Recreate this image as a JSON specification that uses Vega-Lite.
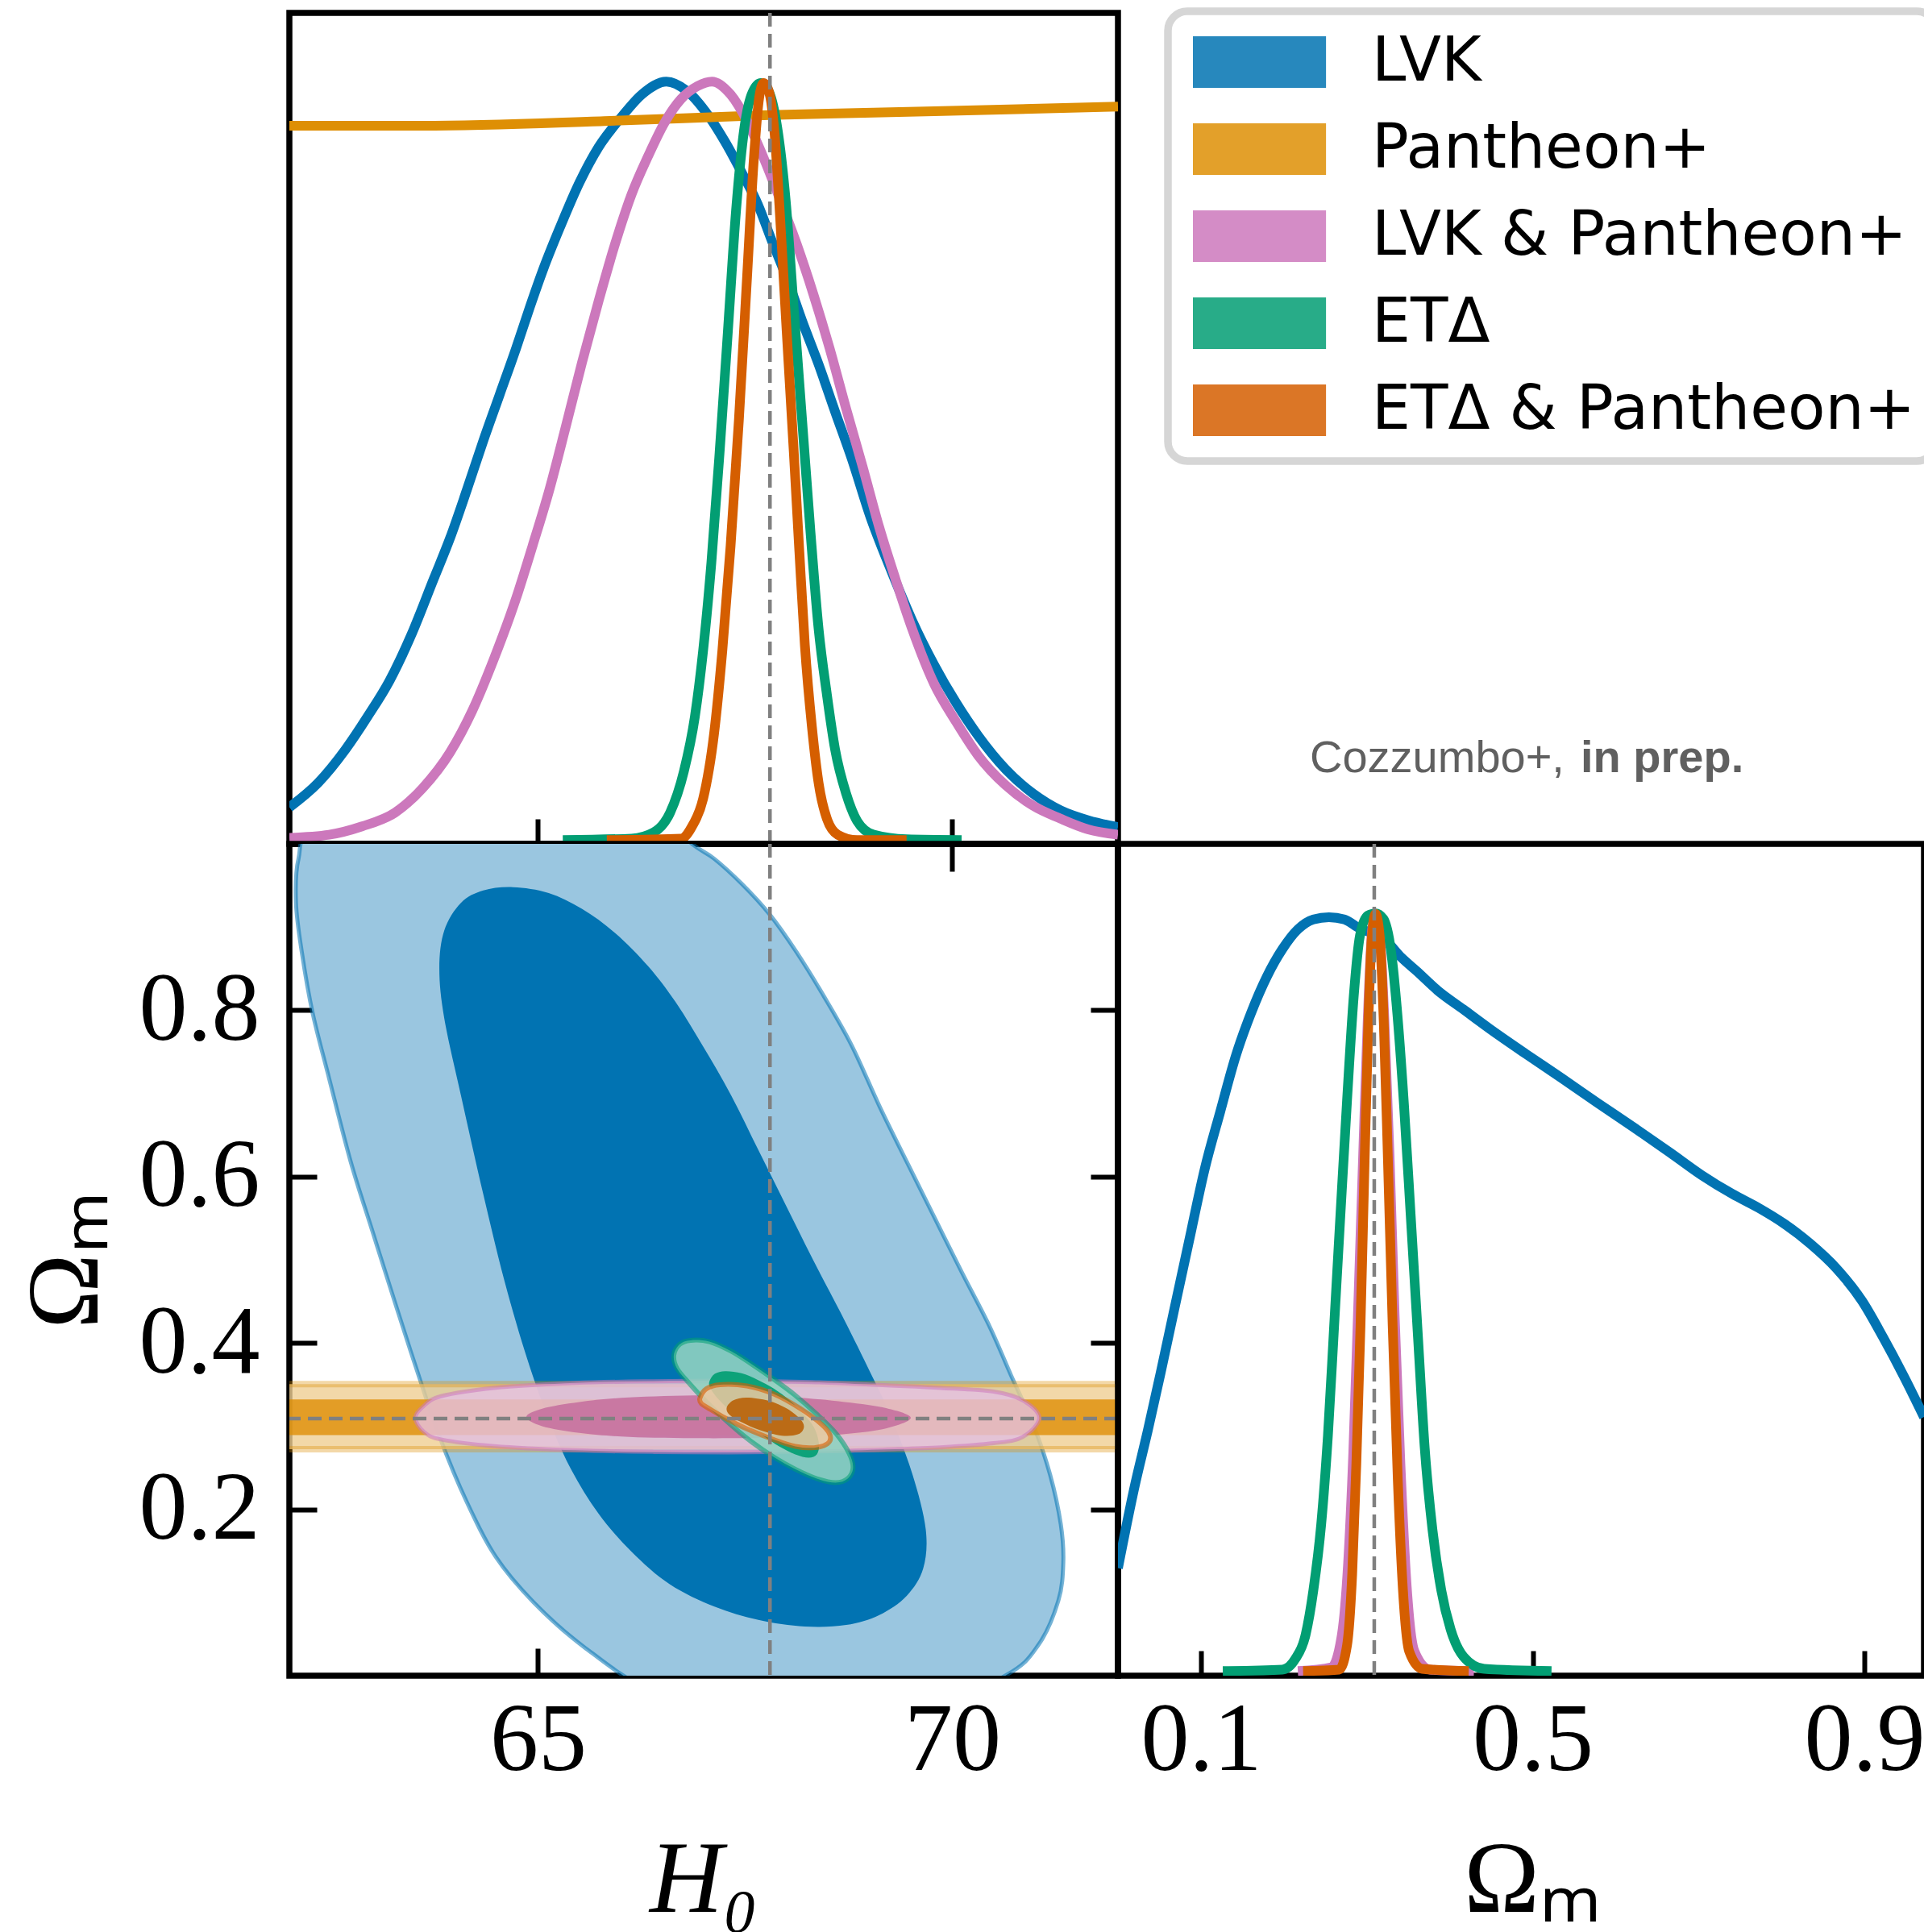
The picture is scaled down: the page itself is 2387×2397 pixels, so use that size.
{
  "$schema": "https://vega.github.io/schema/vega-lite/v6.json",
  "padding": {"left": 15, "top": 5, "right": 0, "bottom": 0},
  "background": "white",
  "config": {
    "view": {"stroke": "black", "strokeWidth": 7.5},
    "axis": {"grid": false, "domain": false, "tickColor": "black", "tickWidth": 6, "labelFont": "Liberation Serif", "labelFontSize": 120, "labelColor": "black", "labelOverlap": false, "labelFlush": false, "titleFont": "Liberation Serif", "titleFontSize": 126, "titleFontWeight": "normal", "titleColor": "black"},
    "legend": {"strokeColor": "#d6d6d6", "strokeWidth": 9.5, "cornerRadius": 24, "fillColor": "white", "padding": 25}
  },
  "datasets": {
    "truth": [{"H0": 67.8, "Om": 0.309}],
    "h0_1d": [
      {"dataset": "LVK", "H0": 62.0, "density": 0.048}, {"dataset": "LVK", "H0": 62.346, "density": 0.080}, {"dataset": "LVK", "H0": 62.678, "density": 0.124}, {"dataset": "LVK", "H0": 62.944, "density": 0.167}, {"dataset": "LVK", "H0": 63.209, "density": 0.214}, {"dataset": "LVK", "H0": 63.475, "density": 0.275}, {"dataset": "LVK", "H0": 63.740, "density": 0.347}, {"dataset": "LVK", "H0": 63.939, "density": 0.401}, {"dataset": "LVK", "H0": 64.138, "density": 0.463}, {"dataset": "LVK", "H0": 64.338, "density": 0.528}, {"dataset": "LVK", "H0": 64.537, "density": 0.589}, {"dataset": "LVK", "H0": 64.736, "density": 0.650}, {"dataset": "LVK", "H0": 64.902, "density": 0.704}, {"dataset": "LVK", "H0": 65.068, "density": 0.755}, {"dataset": "LVK", "H0": 65.267, "density": 0.809}, {"dataset": "LVK", "H0": 65.499, "density": 0.867}, {"dataset": "LVK", "H0": 65.732, "density": 0.914}, {"dataset": "LVK", "H0": 65.997, "density": 0.952}, {"dataset": "LVK", "H0": 66.263, "density": 0.984}, {"dataset": "LVK", "H0": 66.55, "density": 1.0}, {"dataset": "LVK", "H0": 66.794, "density": 0.988}, {"dataset": "LVK", "H0": 67.059, "density": 0.955}, {"dataset": "LVK", "H0": 67.258, "density": 0.921}, {"dataset": "LVK", "H0": 67.458, "density": 0.881}, {"dataset": "LVK", "H0": 67.657, "density": 0.838}, {"dataset": "LVK", "H0": 67.823, "density": 0.791}, {"dataset": "LVK", "H0": 68.022, "density": 0.737}, {"dataset": "LVK", "H0": 68.188, "density": 0.686}, {"dataset": "LVK", "H0": 68.387, "density": 0.629}, {"dataset": "LVK", "H0": 68.586, "density": 0.567}, {"dataset": "LVK", "H0": 68.785, "density": 0.506}, {"dataset": "LVK", "H0": 69.018, "density": 0.427}, {"dataset": "LVK", "H0": 69.250, "density": 0.362}, {"dataset": "LVK", "H0": 69.516, "density": 0.293}, {"dataset": "LVK", "H0": 69.781, "density": 0.235}, {"dataset": "LVK", "H0": 70.047, "density": 0.185}, {"dataset": "LVK", "H0": 70.312, "density": 0.142}, {"dataset": "LVK", "H0": 70.644, "density": 0.098}, {"dataset": "LVK", "H0": 70.976, "density": 0.066}, {"dataset": "LVK", "H0": 71.308, "density": 0.044}, {"dataset": "LVK", "H0": 71.640, "density": 0.031}, {"dataset": "LVK", "H0": 72.0, "density": 0.022},
      {"dataset": "Pantheon+", "H0": 62.0, "density": 0.942}, {"dataset": "Pantheon+", "H0": 63.607, "density": 0.942}, {"dataset": "Pantheon+", "H0": 65.798, "density": 0.948}, {"dataset": "Pantheon+", "H0": 67.790, "density": 0.956}, {"dataset": "Pantheon+", "H0": 69.781, "density": 0.961}, {"dataset": "Pantheon+", "H0": 72.0, "density": 0.967},
      {"dataset": "LVK & Pantheon+", "H0": 62.0, "density": 0.008}, {"dataset": "LVK & Pantheon+", "H0": 62.479, "density": 0.012}, {"dataset": "LVK & Pantheon+", "H0": 62.877, "density": 0.023}, {"dataset": "LVK & Pantheon+", "H0": 63.275, "density": 0.041}, {"dataset": "LVK & Pantheon+", "H0": 63.607, "density": 0.073}, {"dataset": "LVK & Pantheon+", "H0": 63.939, "density": 0.120}, {"dataset": "LVK & Pantheon+", "H0": 64.205, "density": 0.174}, {"dataset": "LVK & Pantheon+", "H0": 64.470, "density": 0.243}, {"dataset": "LVK & Pantheon+", "H0": 64.736, "density": 0.322}, {"dataset": "LVK & Pantheon+", "H0": 64.935, "density": 0.391}, {"dataset": "LVK & Pantheon+", "H0": 65.134, "density": 0.463}, {"dataset": "LVK & Pantheon+", "H0": 65.333, "density": 0.546}, {"dataset": "LVK & Pantheon+", "H0": 65.533, "density": 0.632}, {"dataset": "LVK & Pantheon+", "H0": 65.732, "density": 0.712}, {"dataset": "LVK & Pantheon+", "H0": 65.931, "density": 0.787}, {"dataset": "LVK & Pantheon+", "H0": 66.130, "density": 0.852}, {"dataset": "LVK & Pantheon+", "H0": 66.329, "density": 0.902}, {"dataset": "LVK & Pantheon+", "H0": 66.528, "density": 0.946}, {"dataset": "LVK & Pantheon+", "H0": 66.727, "density": 0.977}, {"dataset": "LVK & Pantheon+", "H0": 66.927, "density": 0.994}, {"dataset": "LVK & Pantheon+", "H0": 67.10, "density": 1.0}, {"dataset": "LVK & Pantheon+", "H0": 67.325, "density": 0.983}, {"dataset": "LVK & Pantheon+", "H0": 67.524, "density": 0.948}, {"dataset": "LVK & Pantheon+", "H0": 67.723, "density": 0.900}, {"dataset": "LVK & Pantheon+", "H0": 67.922, "density": 0.845}, {"dataset": "LVK & Pantheon+", "H0": 68.122, "density": 0.787}, {"dataset": "LVK & Pantheon+", "H0": 68.321, "density": 0.722}, {"dataset": "LVK & Pantheon+", "H0": 68.520, "density": 0.650}, {"dataset": "LVK & Pantheon+", "H0": 68.719, "density": 0.571}, {"dataset": "LVK & Pantheon+", "H0": 68.918, "density": 0.495}, {"dataset": "LVK & Pantheon+", "H0": 69.117, "density": 0.416}, {"dataset": "LVK & Pantheon+", "H0": 69.316, "density": 0.347}, {"dataset": "LVK & Pantheon+", "H0": 69.516, "density": 0.282}, {"dataset": "LVK & Pantheon+", "H0": 69.781, "density": 0.210}, {"dataset": "LVK & Pantheon+", "H0": 70.047, "density": 0.160}, {"dataset": "LVK & Pantheon+", "H0": 70.312, "density": 0.116}, {"dataset": "LVK & Pantheon+", "H0": 70.644, "density": 0.077}, {"dataset": "LVK & Pantheon+", "H0": 70.976, "density": 0.050}, {"dataset": "LVK & Pantheon+", "H0": 71.308, "density": 0.033}, {"dataset": "LVK & Pantheon+", "H0": 71.640, "density": 0.019}, {"dataset": "LVK & Pantheon+", "H0": 72.0, "density": 0.012},
      {"dataset": "ETΔ", "H0": 65.300, "density": 0.005}, {"dataset": "ETΔ", "H0": 66.130, "density": 0.007}, {"dataset": "ETΔ", "H0": 66.396, "density": 0.015}, {"dataset": "ETΔ", "H0": 66.595, "density": 0.041}, {"dataset": "ETΔ", "H0": 66.761, "density": 0.095}, {"dataset": "ETΔ", "H0": 66.894, "density": 0.167}, {"dataset": "ETΔ", "H0": 66.993, "density": 0.253}, {"dataset": "ETΔ", "H0": 67.093, "density": 0.369}, {"dataset": "ETΔ", "H0": 67.192, "density": 0.513}, {"dataset": "ETΔ", "H0": 67.292, "density": 0.672}, {"dataset": "ETΔ", "H0": 67.391, "density": 0.831}, {"dataset": "ETΔ", "H0": 67.491, "density": 0.939}, {"dataset": "ETΔ", "H0": 67.590, "density": 0.986}, {"dataset": "ETΔ", "H0": 67.690, "density": 0.998}, {"dataset": "ETΔ", "H0": 67.790, "density": 0.986}, {"dataset": "ETΔ", "H0": 67.889, "density": 0.939}, {"dataset": "ETΔ", "H0": 67.989, "density": 0.845}, {"dataset": "ETΔ", "H0": 68.088, "density": 0.701}, {"dataset": "ETΔ", "H0": 68.188, "density": 0.556}, {"dataset": "ETΔ", "H0": 68.287, "density": 0.412}, {"dataset": "ETΔ", "H0": 68.387, "density": 0.282}, {"dataset": "ETΔ", "H0": 68.487, "density": 0.196}, {"dataset": "ETΔ", "H0": 68.586, "density": 0.124}, {"dataset": "ETΔ", "H0": 68.719, "density": 0.066}, {"dataset": "ETΔ", "H0": 68.852, "density": 0.030}, {"dataset": "ETΔ", "H0": 69.051, "density": 0.012}, {"dataset": "ETΔ", "H0": 69.449, "density": 0.006}, {"dataset": "ETΔ", "H0": 70.113, "density": 0.005},
      {"dataset": "ETΔ & Pantheon+", "H0": 65.831, "density": 0.005}, {"dataset": "ETΔ & Pantheon+", "H0": 66.727, "density": 0.007}, {"dataset": "ETΔ & Pantheon+", "H0": 66.860, "density": 0.023}, {"dataset": "ETΔ & Pantheon+", "H0": 66.993, "density": 0.059}, {"dataset": "ETΔ & Pantheon+", "H0": 67.126, "density": 0.145}, {"dataset": "ETΔ & Pantheon+", "H0": 67.225, "density": 0.253}, {"dataset": "ETΔ & Pantheon+", "H0": 67.325, "density": 0.391}, {"dataset": "ETΔ & Pantheon+", "H0": 67.425, "density": 0.556}, {"dataset": "ETΔ & Pantheon+", "H0": 67.524, "density": 0.744}, {"dataset": "ETΔ & Pantheon+", "H0": 67.604, "density": 0.896}, {"dataset": "ETΔ & Pantheon+", "H0": 67.670, "density": 0.979}, {"dataset": "ETΔ & Pantheon+", "H0": 67.723, "density": 0.998}, {"dataset": "ETΔ & Pantheon+", "H0": 67.790, "density": 0.986}, {"dataset": "ETΔ & Pantheon+", "H0": 67.856, "density": 0.932}, {"dataset": "ETΔ & Pantheon+", "H0": 67.922, "density": 0.823}, {"dataset": "ETΔ & Pantheon+", "H0": 68.002, "density": 0.672}, {"dataset": "ETΔ & Pantheon+", "H0": 68.088, "density": 0.513}, {"dataset": "ETΔ & Pantheon+", "H0": 68.155, "density": 0.383}, {"dataset": "ETΔ & Pantheon+", "H0": 68.221, "density": 0.261}, {"dataset": "ETΔ & Pantheon+", "H0": 68.307, "density": 0.153}, {"dataset": "ETΔ & Pantheon+", "H0": 68.387, "density": 0.080}, {"dataset": "ETΔ & Pantheon+", "H0": 68.487, "density": 0.033}, {"dataset": "ETΔ & Pantheon+", "H0": 68.619, "density": 0.012}, {"dataset": "ETΔ & Pantheon+", "H0": 68.852, "density": 0.005}, {"dataset": "ETΔ & Pantheon+", "H0": 69.449, "density": 0.005}
    ],
    "om_1d": [
      {"dataset": "LVK", "Om": 0.0, "density": 0.141}, {"dataset": "LVK", "Om": 0.0203, "density": 0.249}, {"dataset": "LVK", "Om": 0.0359, "density": 0.321}, {"dataset": "LVK", "Om": 0.0515, "density": 0.397}, {"dataset": "LVK", "Om": 0.0671, "density": 0.476}, {"dataset": "LVK", "Om": 0.0858, "density": 0.570}, {"dataset": "LVK", "Om": 0.1046, "density": 0.664}, {"dataset": "LVK", "Om": 0.1233, "density": 0.739}, {"dataset": "LVK", "Om": 0.1420, "density": 0.812}, {"dataset": "LVK", "Om": 0.1607, "density": 0.869}, {"dataset": "LVK", "Om": 0.1795, "density": 0.916}, {"dataset": "LVK", "Om": 0.1982, "density": 0.952}, {"dataset": "LVK", "Om": 0.2169, "density": 0.978}, {"dataset": "LVK", "Om": 0.2356, "density": 0.991}, {"dataset": "LVK", "Om": 0.2544, "density": 0.994}, {"dataset": "LVK", "Om": 0.2731, "density": 0.991}, {"dataset": "LVK", "Om": 0.2918, "density": 0.979}, {"dataset": "LVK", "Om": 0.3043, "density": 0.974}, {"dataset": "LVK", "Om": 0.3230, "density": 0.963}, {"dataset": "LVK", "Om": 0.3418, "density": 0.941}, {"dataset": "LVK", "Om": 0.3605, "density": 0.923}, {"dataset": "LVK", "Om": 0.3854, "density": 0.898}, {"dataset": "LVK", "Om": 0.4166, "density": 0.873}, {"dataset": "LVK", "Om": 0.4478, "density": 0.848}, {"dataset": "LVK", "Om": 0.4915, "density": 0.815}, {"dataset": "LVK", "Om": 0.5352, "density": 0.783}, {"dataset": "LVK", "Om": 0.5789, "density": 0.750}, {"dataset": "LVK", "Om": 0.6226, "density": 0.718}, {"dataset": "LVK", "Om": 0.6663, "density": 0.685}, {"dataset": "LVK", "Om": 0.7037, "density": 0.656}, {"dataset": "LVK", "Om": 0.7412, "density": 0.631}, {"dataset": "LVK", "Om": 0.7724, "density": 0.613}, {"dataset": "LVK", "Om": 0.8036, "density": 0.592}, {"dataset": "LVK", "Om": 0.8348, "density": 0.566}, {"dataset": "LVK", "Om": 0.8660, "density": 0.534}, {"dataset": "LVK", "Om": 0.8972, "density": 0.491}, {"dataset": "LVK", "Om": 0.9222, "density": 0.444}, {"dataset": "LVK", "Om": 0.9472, "density": 0.393}, {"dataset": "LVK", "Om": 0.9718, "density": 0.339},
      {"dataset": "LVK & Pantheon+", "Om": 0.2169, "density": 0.006}, {"dataset": "LVK & Pantheon+", "Om": 0.2575, "density": 0.011}, {"dataset": "LVK & Pantheon+", "Om": 0.2700, "density": 0.054}, {"dataset": "LVK & Pantheon+", "Om": 0.2775, "density": 0.148}, {"dataset": "LVK & Pantheon+", "Om": 0.2837, "density": 0.292}, {"dataset": "LVK & Pantheon+", "Om": 0.2893, "density": 0.472}, {"dataset": "LVK & Pantheon+", "Om": 0.2956, "density": 0.682}, {"dataset": "LVK & Pantheon+", "Om": 0.3012, "density": 0.862}, {"dataset": "LVK & Pantheon+", "Om": 0.3062, "density": 0.974}, {"dataset": "LVK & Pantheon+", "Om": 0.3105, "density": 0.998}, {"dataset": "LVK & Pantheon+", "Om": 0.3155, "density": 0.974}, {"dataset": "LVK & Pantheon+", "Om": 0.3211, "density": 0.862}, {"dataset": "LVK & Pantheon+", "Om": 0.3274, "density": 0.682}, {"dataset": "LVK & Pantheon+", "Om": 0.3336, "density": 0.472}, {"dataset": "LVK & Pantheon+", "Om": 0.3405, "density": 0.278}, {"dataset": "LVK & Pantheon+", "Om": 0.3480, "density": 0.119}, {"dataset": "LVK & Pantheon+", "Om": 0.3574, "density": 0.032}, {"dataset": "LVK & Pantheon+", "Om": 0.3761, "density": 0.008}, {"dataset": "LVK & Pantheon+", "Om": 0.4291, "density": 0.006},
      {"dataset": "ETΔ", "Om": 0.1264, "density": 0.006}, {"dataset": "ETΔ", "Om": 0.1982, "density": 0.008}, {"dataset": "ETΔ", "Om": 0.2138, "density": 0.022}, {"dataset": "ETΔ", "Om": 0.2263, "density": 0.054}, {"dataset": "ETΔ", "Om": 0.2356, "density": 0.112}, {"dataset": "ETΔ", "Om": 0.2450, "density": 0.198}, {"dataset": "ETΔ", "Om": 0.2531, "density": 0.314}, {"dataset": "ETΔ", "Om": 0.2606, "density": 0.458}, {"dataset": "ETΔ", "Om": 0.2681, "density": 0.602}, {"dataset": "ETΔ", "Om": 0.2762, "density": 0.754}, {"dataset": "ETΔ", "Om": 0.2843, "density": 0.891}, {"dataset": "ETΔ", "Om": 0.2918, "density": 0.970}, {"dataset": "ETΔ", "Om": 0.3012, "density": 0.996}, {"dataset": "ETΔ", "Om": 0.3105, "density": 0.999}, {"dataset": "ETΔ", "Om": 0.3199, "density": 0.992}, {"dataset": "ETΔ", "Om": 0.3293, "density": 0.949}, {"dataset": "ETΔ", "Om": 0.3367, "density": 0.869}, {"dataset": "ETΔ", "Om": 0.3449, "density": 0.747}, {"dataset": "ETΔ", "Om": 0.3530, "density": 0.602}, {"dataset": "ETΔ", "Om": 0.3617, "density": 0.444}, {"dataset": "ETΔ", "Om": 0.3698, "density": 0.299}, {"dataset": "ETΔ", "Om": 0.3792, "density": 0.191}, {"dataset": "ETΔ", "Om": 0.3898, "density": 0.112}, {"dataset": "ETΔ", "Om": 0.4010, "density": 0.061}, {"dataset": "ETΔ", "Om": 0.4166, "density": 0.025}, {"dataset": "ETΔ", "Om": 0.4416, "density": 0.009}, {"dataset": "ETΔ", "Om": 0.5227, "density": 0.006},
      {"dataset": "ETΔ & Pantheon+", "Om": 0.2232, "density": 0.006}, {"dataset": "ETΔ & Pantheon+", "Om": 0.2668, "density": 0.008}, {"dataset": "ETΔ & Pantheon+", "Om": 0.2762, "density": 0.040}, {"dataset": "ETΔ & Pantheon+", "Om": 0.2824, "density": 0.133}, {"dataset": "ETΔ & Pantheon+", "Om": 0.2874, "density": 0.278}, {"dataset": "ETΔ & Pantheon+", "Om": 0.2924, "density": 0.458}, {"dataset": "ETΔ & Pantheon+", "Om": 0.2974, "density": 0.675}, {"dataset": "ETΔ & Pantheon+", "Om": 0.3018, "density": 0.855}, {"dataset": "ETΔ & Pantheon+", "Om": 0.3062, "density": 0.970}, {"dataset": "ETΔ & Pantheon+", "Om": 0.3105, "density": 0.998}, {"dataset": "ETΔ & Pantheon+", "Om": 0.3155, "density": 0.970}, {"dataset": "ETΔ & Pantheon+", "Om": 0.3205, "density": 0.855}, {"dataset": "ETΔ & Pantheon+", "Om": 0.3255, "density": 0.675}, {"dataset": "ETΔ & Pantheon+", "Om": 0.3312, "density": 0.458}, {"dataset": "ETΔ & Pantheon+", "Om": 0.3374, "density": 0.256}, {"dataset": "ETΔ & Pantheon+", "Om": 0.3436, "density": 0.112}, {"dataset": "ETΔ & Pantheon+", "Om": 0.3511, "density": 0.032}, {"dataset": "ETΔ & Pantheon+", "Om": 0.3667, "density": 0.009}, {"dataset": "ETΔ & Pantheon+", "Om": 0.4229, "density": 0.006}
    ],
    "contours": [
      {"dataset": "LVK", "level": 95, "i": 0, "H0": 62.3, "Om": 1.02}, {"dataset": "LVK", "level": 95, "i": 1, "H0": 62.11, "Om": 0.982}, {"dataset": "LVK", "level": 95, "i": 2, "H0": 62.08, "Om": 0.929}, {"dataset": "LVK", "level": 95, "i": 3, "H0": 62.15, "Om": 0.870}, {"dataset": "LVK", "level": 95, "i": 4, "H0": 62.28, "Om": 0.797}, {"dataset": "LVK", "level": 95, "i": 5, "H0": 62.48, "Om": 0.718}, {"dataset": "LVK", "level": 95, "i": 6, "H0": 62.74, "Om": 0.618}, {"dataset": "LVK", "level": 95, "i": 7, "H0": 63.01, "Om": 0.532}, {"dataset": "LVK", "level": 95, "i": 8, "H0": 63.28, "Om": 0.447}, {"dataset": "LVK", "level": 95, "i": 9, "H0": 63.54, "Om": 0.367}, {"dataset": "LVK", "level": 95, "i": 10, "H0": 63.81, "Om": 0.288}, {"dataset": "LVK", "level": 95, "i": 11, "H0": 64.14, "Om": 0.209}, {"dataset": "LVK", "level": 95, "i": 12, "H0": 64.49, "Om": 0.143}, {"dataset": "LVK", "level": 95, "i": 13, "H0": 64.95, "Om": 0.088}, {"dataset": "LVK", "level": 95, "i": 14, "H0": 65.55, "Om": 0.035}, {"dataset": "LVK", "level": 95, "i": 15, "H0": 66.4, "Om": -0.02}, {"dataset": "LVK", "level": 95, "i": 16, "H0": 67.7, "Om": -0.06}, {"dataset": "LVK", "level": 95, "i": 17, "H0": 69.5, "Om": -0.05}, {"dataset": "LVK", "level": 95, "i": 18, "H0": 70.64, "Om": 0.0}, {"dataset": "LVK", "level": 95, "i": 19, "H0": 71.04, "Om": 0.037}, {"dataset": "LVK", "level": 95, "i": 20, "H0": 71.28, "Om": 0.090}, {"dataset": "LVK", "level": 95, "i": 21, "H0": 71.34, "Om": 0.136}, {"dataset": "LVK", "level": 95, "i": 22, "H0": 71.31, "Om": 0.182}, {"dataset": "LVK", "level": 95, "i": 23, "H0": 71.18, "Om": 0.242}, {"dataset": "LVK", "level": 95, "i": 24, "H0": 70.98, "Om": 0.301}, {"dataset": "LVK", "level": 95, "i": 25, "H0": 70.71, "Om": 0.361}, {"dataset": "LVK", "level": 95, "i": 26, "H0": 70.45, "Om": 0.420}, {"dataset": "LVK", "level": 95, "i": 27, "H0": 70.11, "Om": 0.486}, {"dataset": "LVK", "level": 95, "i": 28, "H0": 69.78, "Om": 0.552}, {"dataset": "LVK", "level": 95, "i": 29, "H0": 69.45, "Om": 0.618}, {"dataset": "LVK", "level": 95, "i": 30, "H0": 69.12, "Om": 0.685}, {"dataset": "LVK", "level": 95, "i": 31, "H0": 68.79, "Om": 0.757}, {"dataset": "LVK", "level": 95, "i": 32, "H0": 68.45, "Om": 0.817}, {"dataset": "LVK", "level": 95, "i": 33, "H0": 68.12, "Om": 0.870}, {"dataset": "LVK", "level": 95, "i": 34, "H0": 67.79, "Om": 0.916}, {"dataset": "LVK", "level": 95, "i": 35, "H0": 67.46, "Om": 0.952}, {"dataset": "LVK", "level": 95, "i": 36, "H0": 67.13, "Om": 0.982}, {"dataset": "LVK", "level": 95, "i": 37, "H0": 66.86, "Om": 1.0}, {"dataset": "LVK", "level": 95, "i": 38, "H0": 66.4, "Om": 1.04}, {"dataset": "LVK", "level": 95, "i": 39, "H0": 65.0, "Om": 1.07}, {"dataset": "LVK", "level": 95, "i": 40, "H0": 63.4, "Om": 1.06},
      {"dataset": "LVK", "level": 68, "i": 0, "H0": 64.70, "Om": 0.948}, {"dataset": "LVK", "level": 68, "i": 1, "H0": 65.13, "Om": 0.941}, {"dataset": "LVK", "level": 68, "i": 2, "H0": 65.53, "Om": 0.922}, {"dataset": "LVK", "level": 68, "i": 3, "H0": 65.93, "Om": 0.893}, {"dataset": "LVK", "level": 68, "i": 4, "H0": 66.33, "Om": 0.853}, {"dataset": "LVK", "level": 68, "i": 5, "H0": 66.66, "Om": 0.810}, {"dataset": "LVK", "level": 68, "i": 6, "H0": 66.99, "Om": 0.757}, {"dataset": "LVK", "level": 68, "i": 7, "H0": 67.33, "Om": 0.698}, {"dataset": "LVK", "level": 68, "i": 8, "H0": 67.66, "Om": 0.632}, {"dataset": "LVK", "level": 68, "i": 9, "H0": 67.99, "Om": 0.566}, {"dataset": "LVK", "level": 68, "i": 10, "H0": 68.32, "Om": 0.500}, {"dataset": "LVK", "level": 68, "i": 11, "H0": 68.65, "Om": 0.437}, {"dataset": "LVK", "level": 68, "i": 12, "H0": 68.98, "Om": 0.371}, {"dataset": "LVK", "level": 68, "i": 13, "H0": 69.25, "Om": 0.314}, {"dataset": "LVK", "level": 68, "i": 14, "H0": 69.52, "Om": 0.242}, {"dataset": "LVK", "level": 68, "i": 15, "H0": 69.68, "Om": 0.176}, {"dataset": "LVK", "level": 68, "i": 16, "H0": 69.65, "Om": 0.129}, {"dataset": "LVK", "level": 68, "i": 17, "H0": 69.45, "Om": 0.096}, {"dataset": "LVK", "level": 68, "i": 18, "H0": 69.12, "Om": 0.073}, {"dataset": "LVK", "level": 68, "i": 19, "H0": 68.72, "Om": 0.061}, {"dataset": "LVK", "level": 68, "i": 20, "H0": 68.22, "Om": 0.059}, {"dataset": "LVK", "level": 68, "i": 21, "H0": 67.66, "Om": 0.067}, {"dataset": "LVK", "level": 68, "i": 22, "H0": 67.13, "Om": 0.083}, {"dataset": "LVK", "level": 68, "i": 23, "H0": 66.59, "Om": 0.110}, {"dataset": "LVK", "level": 68, "i": 24, "H0": 66.13, "Om": 0.149}, {"dataset": "LVK", "level": 68, "i": 25, "H0": 65.73, "Om": 0.195}, {"dataset": "LVK", "level": 68, "i": 26, "H0": 65.40, "Om": 0.248}, {"dataset": "LVK", "level": 68, "i": 27, "H0": 65.13, "Om": 0.308}, {"dataset": "LVK", "level": 68, "i": 28, "H0": 64.87, "Om": 0.381}, {"dataset": "LVK", "level": 68, "i": 29, "H0": 64.60, "Om": 0.473}, {"dataset": "LVK", "level": 68, "i": 30, "H0": 64.34, "Om": 0.579}, {"dataset": "LVK", "level": 68, "i": 31, "H0": 64.07, "Om": 0.698}, {"dataset": "LVK", "level": 68, "i": 32, "H0": 63.87, "Om": 0.790}, {"dataset": "LVK", "level": 68, "i": 33, "H0": 63.81, "Om": 0.850}, {"dataset": "LVK", "level": 68, "i": 34, "H0": 63.87, "Om": 0.896}, {"dataset": "LVK", "level": 68, "i": 35, "H0": 64.07, "Om": 0.929}, {"dataset": "LVK", "level": 68, "i": 36, "H0": 64.34, "Om": 0.944},
      {"dataset": "Pantheon+", "level": 95, "i": 0, "H0": 61.5, "Om": 0.2724}, {"dataset": "Pantheon+", "level": 95, "i": 1, "H0": 72.5, "Om": 0.2724}, {"dataset": "Pantheon+", "level": 95, "i": 2, "H0": 72.5, "Om": 0.3506}, {"dataset": "Pantheon+", "level": 95, "i": 3, "H0": 61.5, "Om": 0.3506},
      {"dataset": "Pantheon+", "level": 68, "i": 0, "H0": 61.5, "Om": 0.2893}, {"dataset": "Pantheon+", "level": 68, "i": 1, "H0": 72.5, "Om": 0.2893}, {"dataset": "Pantheon+", "level": 68, "i": 2, "H0": 72.5, "Om": 0.3322}, {"dataset": "Pantheon+", "level": 68, "i": 3, "H0": 61.5, "Om": 0.3322},
      {"dataset": "LVK & Pantheon+", "level": 95, "i": 0, "H0": 63.52, "Om": 0.310}, {"dataset": "LVK & Pantheon+", "level": 95, "i": 1, "H0": 63.62, "Om": 0.324}, {"dataset": "LVK & Pantheon+", "level": 95, "i": 2, "H0": 63.83, "Om": 0.336}, {"dataset": "LVK & Pantheon+", "level": 95, "i": 3, "H0": 64.47, "Om": 0.346}, {"dataset": "LVK & Pantheon+", "level": 95, "i": 4, "H0": 65.45, "Om": 0.352}, {"dataset": "LVK & Pantheon+", "level": 95, "i": 5, "H0": 66.4, "Om": 0.354}, {"dataset": "LVK & Pantheon+", "level": 95, "i": 6, "H0": 67.3, "Om": 0.3545}, {"dataset": "LVK & Pantheon+", "level": 95, "i": 7, "H0": 68.3, "Om": 0.353}, {"dataset": "LVK & Pantheon+", "level": 95, "i": 8, "H0": 69.21, "Om": 0.349}, {"dataset": "LVK & Pantheon+", "level": 95, "i": 9, "H0": 69.86, "Om": 0.346}, {"dataset": "LVK & Pantheon+", "level": 95, "i": 10, "H0": 70.5, "Om": 0.3415}, {"dataset": "LVK & Pantheon+", "level": 95, "i": 11, "H0": 70.85, "Om": 0.331}, {"dataset": "LVK & Pantheon+", "level": 95, "i": 12, "H0": 71.05, "Om": 0.310}, {"dataset": "LVK & Pantheon+", "level": 95, "i": 13, "H0": 70.85, "Om": 0.287}, {"dataset": "LVK & Pantheon+", "level": 95, "i": 14, "H0": 70.5, "Om": 0.2795}, {"dataset": "LVK & Pantheon+", "level": 95, "i": 15, "H0": 69.86, "Om": 0.2745}, {"dataset": "LVK & Pantheon+", "level": 95, "i": 16, "H0": 69.21, "Om": 0.272}, {"dataset": "LVK & Pantheon+", "level": 95, "i": 17, "H0": 68.3, "Om": 0.2695}, {"dataset": "LVK & Pantheon+", "level": 95, "i": 18, "H0": 67.3, "Om": 0.2685}, {"dataset": "LVK & Pantheon+", "level": 95, "i": 19, "H0": 66.4, "Om": 0.269}, {"dataset": "LVK & Pantheon+", "level": 95, "i": 20, "H0": 65.45, "Om": 0.271}, {"dataset": "LVK & Pantheon+", "level": 95, "i": 21, "H0": 64.47, "Om": 0.276}, {"dataset": "LVK & Pantheon+", "level": 95, "i": 22, "H0": 63.83, "Om": 0.284}, {"dataset": "LVK & Pantheon+", "level": 95, "i": 23, "H0": 63.62, "Om": 0.2935},
      {"dataset": "LVK & Pantheon+", "level": 68, "i": 0, "H0": 64.86, "Om": 0.311}, {"dataset": "LVK & Pantheon+", "level": 68, "i": 1, "H0": 65.05, "Om": 0.321}, {"dataset": "LVK & Pantheon+", "level": 68, "i": 2, "H0": 65.5, "Om": 0.329}, {"dataset": "LVK & Pantheon+", "level": 68, "i": 3, "H0": 66.1, "Om": 0.3345}, {"dataset": "LVK & Pantheon+", "level": 68, "i": 4, "H0": 67.0, "Om": 0.337}, {"dataset": "LVK & Pantheon+", "level": 68, "i": 5, "H0": 68.0, "Om": 0.335}, {"dataset": "LVK & Pantheon+", "level": 68, "i": 6, "H0": 68.7, "Om": 0.329}, {"dataset": "LVK & Pantheon+", "level": 68, "i": 7, "H0": 69.21, "Om": 0.3215}, {"dataset": "LVK & Pantheon+", "level": 68, "i": 8, "H0": 69.5, "Om": 0.310}, {"dataset": "LVK & Pantheon+", "level": 68, "i": 9, "H0": 69.21, "Om": 0.2975}, {"dataset": "LVK & Pantheon+", "level": 68, "i": 10, "H0": 68.7, "Om": 0.2905}, {"dataset": "LVK & Pantheon+", "level": 68, "i": 11, "H0": 68.0, "Om": 0.2865}, {"dataset": "LVK & Pantheon+", "level": 68, "i": 12, "H0": 67.0, "Om": 0.2855}, {"dataset": "LVK & Pantheon+", "level": 68, "i": 13, "H0": 66.1, "Om": 0.287}, {"dataset": "LVK & Pantheon+", "level": 68, "i": 14, "H0": 65.5, "Om": 0.292}, {"dataset": "LVK & Pantheon+", "level": 68, "i": 15, "H0": 65.05, "Om": 0.300},
      {"dataset": "ETΔ", "level": 95, "i": 0, "H0": 66.711, "Om": 0.3984}, {"dataset": "ETΔ", "level": 95, "i": 1, "H0": 66.841, "Om": 0.4032}, {"dataset": "ETΔ", "level": 95, "i": 2, "H0": 67.068, "Om": 0.4016}, {"dataset": "ETΔ", "level": 95, "i": 3, "H0": 67.328, "Om": 0.3903}, {"dataset": "ETΔ", "level": 95, "i": 4, "H0": 67.587, "Om": 0.3741}, {"dataset": "ETΔ", "level": 95, "i": 5, "H0": 67.846, "Om": 0.3564}, {"dataset": "ETΔ", "level": 95, "i": 6, "H0": 68.106, "Om": 0.3370}, {"dataset": "ETΔ", "level": 95, "i": 7, "H0": 68.365, "Om": 0.3144}, {"dataset": "ETΔ", "level": 95, "i": 8, "H0": 68.592, "Om": 0.2918}, {"dataset": "ETΔ", "level": 95, "i": 9, "H0": 68.754, "Om": 0.2676}, {"dataset": "ETΔ", "level": 95, "i": 10, "H0": 68.803, "Om": 0.2499}, {"dataset": "ETΔ", "level": 95, "i": 11, "H0": 68.738, "Om": 0.2369}, {"dataset": "ETΔ", "level": 95, "i": 12, "H0": 68.592, "Om": 0.2321}, {"dataset": "ETΔ", "level": 95, "i": 13, "H0": 68.365, "Om": 0.2369}, {"dataset": "ETΔ", "level": 95, "i": 14, "H0": 68.106, "Om": 0.2482}, {"dataset": "ETΔ", "level": 95, "i": 15, "H0": 67.846, "Om": 0.2628}, {"dataset": "ETΔ", "level": 95, "i": 16, "H0": 67.587, "Om": 0.2805}, {"dataset": "ETΔ", "level": 95, "i": 17, "H0": 67.328, "Om": 0.3015}, {"dataset": "ETΔ", "level": 95, "i": 18, "H0": 67.068, "Om": 0.3257}, {"dataset": "ETΔ", "level": 95, "i": 19, "H0": 66.841, "Om": 0.3499}, {"dataset": "ETΔ", "level": 95, "i": 20, "H0": 66.679, "Om": 0.3693}, {"dataset": "ETΔ", "level": 95, "i": 21, "H0": 66.640, "Om": 0.3854},
      {"dataset": "ETΔ", "level": 68, "i": 0, "H0": 67.068, "Om": 0.3532}, {"dataset": "ETΔ", "level": 68, "i": 1, "H0": 67.133, "Om": 0.3628}, {"dataset": "ETΔ", "level": 68, "i": 2, "H0": 67.263, "Om": 0.3661}, {"dataset": "ETΔ", "level": 68, "i": 3, "H0": 67.457, "Om": 0.3635}, {"dataset": "ETΔ", "level": 68, "i": 4, "H0": 67.652, "Om": 0.3557}, {"dataset": "ETΔ", "level": 68, "i": 5, "H0": 67.846, "Om": 0.3451}, {"dataset": "ETΔ", "level": 68, "i": 6, "H0": 68.041, "Om": 0.3306}, {"dataset": "ETΔ", "level": 68, "i": 7, "H0": 68.203, "Om": 0.3144}, {"dataset": "ETΔ", "level": 68, "i": 8, "H0": 68.333, "Om": 0.2983}, {"dataset": "ETΔ", "level": 68, "i": 9, "H0": 68.391, "Om": 0.2789}, {"dataset": "ETΔ", "level": 68, "i": 10, "H0": 68.365, "Om": 0.2660}, {"dataset": "ETΔ", "level": 68, "i": 11, "H0": 68.268, "Om": 0.2621}, {"dataset": "ETΔ", "level": 68, "i": 12, "H0": 68.106, "Om": 0.2660}, {"dataset": "ETΔ", "level": 68, "i": 13, "H0": 67.911, "Om": 0.2757}, {"dataset": "ETΔ", "level": 68, "i": 14, "H0": 67.717, "Om": 0.2886}, {"dataset": "ETΔ", "level": 68, "i": 15, "H0": 67.522, "Om": 0.3015}, {"dataset": "ETΔ", "level": 68, "i": 16, "H0": 67.328, "Om": 0.3176}, {"dataset": "ETΔ", "level": 68, "i": 17, "H0": 67.165, "Om": 0.3338}, {"dataset": "ETΔ", "level": 68, "i": 18, "H0": 67.084, "Om": 0.3451},
      {"dataset": "ETΔ & Pantheon+", "level": 95, "i": 0, "H0": 66.955, "Om": 0.3338}, {"dataset": "ETΔ & Pantheon+", "level": 95, "i": 1, "H0": 67.036, "Om": 0.3451}, {"dataset": "ETΔ & Pantheon+", "level": 95, "i": 2, "H0": 67.198, "Om": 0.3499}, {"dataset": "ETΔ & Pantheon+", "level": 95, "i": 3, "H0": 67.522, "Om": 0.3483}, {"dataset": "ETΔ & Pantheon+", "level": 95, "i": 4, "H0": 67.846, "Om": 0.3386}, {"dataset": "ETΔ & Pantheon+", "level": 95, "i": 5, "H0": 68.170, "Om": 0.3209}, {"dataset": "ETΔ & Pantheon+", "level": 95, "i": 6, "H0": 68.430, "Om": 0.3015}, {"dataset": "ETΔ & Pantheon+", "level": 95, "i": 7, "H0": 68.527, "Om": 0.2886}, {"dataset": "ETΔ & Pantheon+", "level": 95, "i": 8, "H0": 68.495, "Om": 0.2789}, {"dataset": "ETΔ & Pantheon+", "level": 95, "i": 9, "H0": 68.333, "Om": 0.2741}, {"dataset": "ETΔ & Pantheon+", "level": 95, "i": 10, "H0": 68.106, "Om": 0.2757}, {"dataset": "ETΔ & Pantheon+", "level": 95, "i": 11, "H0": 67.846, "Om": 0.2838}, {"dataset": "ETΔ & Pantheon+", "level": 95, "i": 12, "H0": 67.522, "Om": 0.2967}, {"dataset": "ETΔ & Pantheon+", "level": 95, "i": 13, "H0": 67.263, "Om": 0.3096}, {"dataset": "ETΔ & Pantheon+", "level": 95, "i": 14, "H0": 67.068, "Om": 0.3209}, {"dataset": "ETΔ & Pantheon+", "level": 95, "i": 15, "H0": 66.971, "Om": 0.3273},
      {"dataset": "ETΔ & Pantheon+", "level": 68, "i": 0, "H0": 67.279, "Om": 0.3225}, {"dataset": "ETΔ & Pantheon+", "level": 68, "i": 1, "H0": 67.360, "Om": 0.3312}, {"dataset": "ETΔ & Pantheon+", "level": 68, "i": 2, "H0": 67.522, "Om": 0.3344}, {"dataset": "ETΔ & Pantheon+", "level": 68, "i": 3, "H0": 67.781, "Om": 0.3306}, {"dataset": "ETΔ & Pantheon+", "level": 68, "i": 4, "H0": 68.008, "Om": 0.3209}, {"dataset": "ETΔ & Pantheon+", "level": 68, "i": 5, "H0": 68.170, "Om": 0.3080}, {"dataset": "ETΔ & Pantheon+", "level": 68, "i": 6, "H0": 68.209, "Om": 0.2983}, {"dataset": "ETΔ & Pantheon+", "level": 68, "i": 7, "H0": 68.138, "Om": 0.2902}, {"dataset": "ETΔ & Pantheon+", "level": 68, "i": 8, "H0": 67.944, "Om": 0.2886}, {"dataset": "ETΔ & Pantheon+", "level": 68, "i": 9, "H0": 67.684, "Om": 0.2951}, {"dataset": "ETΔ & Pantheon+", "level": 68, "i": 10, "H0": 67.457, "Om": 0.3048}, {"dataset": "ETΔ & Pantheon+", "level": 68, "i": 11, "H0": 67.311, "Om": 0.3138}
    ]
  },
  "columns": 2,
  "spacing": 0,
  "bounds": "flush",
  "resolve": {"scale": {"color": "shared"}, "legend": {"color": "independent"}},
  "concat": [
    {
      "width": 1028, "height": 1031,
      "layer": [
        {
          "data": {"name": "h0_1d"},
          "mark": {"type": "line", "strokeWidth": 12, "interpolate": "monotone", "clip": true},
          "encoding": {
            "x": {"field": "H0", "type": "quantitative", "scale": {"domain": [62, 72], "nice": false, "zero": false}, "axis": {"orient": "bottom", "values": [65, 70], "tickSize": -31, "labels": false, "title": null}},
            "y": {"field": "density", "type": "quantitative", "scale": {"domain": [0, 1.09], "nice": false}, "axis": null},
            "color": {"field": "dataset", "type": "nominal", "scale": {"domain": ["LVK", "Pantheon+", "LVK & Pantheon+", "ETΔ", "ETΔ & Pantheon+"], "range": ["#0173b2", "#de8f05", "#cc78bc", "#029e73", "#d55e00"]},
              "legend": {"orient": "none", "legendX": 1090, "legendY": -2, "title": null, "symbolType": "M-1,-1H4.16V1H-1Z", "symbolSize": 4096, "symbolStrokeWidth": 0, "symbolOpacity": 0.85, "labelFont": "DejaVu Sans", "labelFontSize": 76, "labelLimit": 3000, "labelOffset": 152, "labelColor": "black", "rowPadding": 32,
                "encode": {"symbols": {"update": {"fill": {"scale": "color", "field": "value"}, "stroke": {"value": "transparent"}, "strokeWidth": {"value": 0}}}}}}
          }
        },
        {
          "data": {"name": "truth"},
          "mark": {"type": "rule", "color": "#808080", "strokeWidth": 4.5, "strokeDash": [17, 9]},
          "encoding": {"x": {"field": "H0", "type": "quantitative"}}
        }
      ]
    },
    {
      "width": 1000, "height": 1031,
      "view": {"stroke": null},
      "data": {"values": [{"who": "Cozzumbo+,", "status": "in prep."}]},
      "layer": [
        {
          "mark": {"type": "text", "align": "left", "baseline": "alphabetic", "font": "Liberation Sans", "fontSize": 56, "color": "#606060"},
          "encoding": {"text": {"field": "who", "type": "nominal"}, "x": {"datum": 0.238, "type": "quantitative", "scale": {"domain": [0, 1]}, "axis": null}, "y": {"datum": 0.0863, "type": "quantitative", "scale": {"domain": [0, 1]}, "axis": null}}
        },
        {
          "mark": {"type": "text", "align": "left", "baseline": "alphabetic", "font": "Liberation Sans", "fontSize": 56, "fontWeight": "bold", "color": "#606060"},
          "encoding": {"text": {"field": "status", "type": "nominal"}, "x": {"datum": 0.574, "type": "quantitative"}, "y": {"datum": 0.0863, "type": "quantitative"}}
        }
      ]
    },
    {
      "width": 1028, "height": 1032,
      "resolve": {"axis": {"x": "independent", "y": "independent"}},
      "layer": [
        {
          "data": {"name": "contours"},
          "transform": [{"filter": "datum.dataset === 'LVK' && datum.level === 95"}],
          "mark": {"type": "line", "interpolate": "cardinal-closed", "clip": true, "fill": "#9ac6e0", "fillOpacity": 1, "strokeWidth": 5, "strokeOpacity": 0.55},
          "encoding": {
            "x": {"field": "H0", "type": "quantitative", "scale": {"domain": [62, 72], "nice": false, "zero": false}, "axis": {"orient": "bottom", "values": [65, 70], "format": "d", "tickSize": -34, "labelPadding": 150.5, "labelBaseline": "alphabetic", "title": "H₀", "titleFontStyle": "italic", "titleBaseline": "alphabetic", "titleY": 292}},
            "y": {"field": "Om", "type": "quantitative", "scale": {"domain": [0, 1], "nice": false, "zero": false}, "axis": {"orient": "left", "values": [0.2, 0.4, 0.6, 0.8], "format": ".1f", "tickSize": -34, "labelPadding": 71, "title": "Ωₘ", "titleBaseline": "alphabetic", "titleX": -239, "titleY": 516, "titleAngle": -90}},
            "order": {"field": "i", "type": "quantitative"},
            "color": {"field": "dataset", "type": "nominal", "legend": null}
          }
        },
        {
          "data": {"name": "contours"},
          "transform": [{"filter": "datum.dataset === 'LVK' && datum.level === 68"}],
          "mark": {"type": "line", "interpolate": "cardinal-closed", "clip": true, "fill": "#0173b2", "fillOpacity": 1, "strokeWidth": 0},
          "encoding": {"x": {"field": "H0", "type": "quantitative", "axis": null}, "y": {"field": "Om", "type": "quantitative", "axis": null}, "order": {"field": "i", "type": "quantitative"}, "color": {"field": "dataset", "type": "nominal", "legend": null}}
        },
        {
          "data": {"name": "contours"},
          "transform": [{"filter": "datum.dataset === 'Pantheon+' && datum.level === 95"}],
          "mark": {"type": "line", "interpolate": "linear-closed", "clip": true, "fill": "#efce92", "fillOpacity": 0.8, "strokeWidth": 8, "strokeOpacity": 0.35},
          "encoding": {"x": {"field": "H0", "type": "quantitative", "axis": null}, "y": {"field": "Om", "type": "quantitative", "axis": null}, "order": {"field": "i", "type": "quantitative"}, "color": {"field": "dataset", "type": "nominal", "legend": null}}
        },
        {
          "data": {"name": "contours"},
          "transform": [{"filter": "datum.dataset === 'Pantheon+' && datum.level === 68"}],
          "mark": {"type": "line", "interpolate": "linear-closed", "clip": true, "fill": "#de8f05", "fillOpacity": 0.8, "strokeWidth": 0},
          "encoding": {"x": {"field": "H0", "type": "quantitative", "axis": null}, "y": {"field": "Om", "type": "quantitative", "axis": null}, "order": {"field": "i", "type": "quantitative"}, "color": {"field": "dataset", "type": "nominal", "legend": null}}
        },
        {
          "data": {"name": "contours"},
          "transform": [{"filter": "datum.dataset === 'LVK & Pantheon+' && datum.level === 95"}],
          "mark": {"type": "line", "interpolate": "cardinal-closed", "clip": true, "fill": "#e5c1e3", "fillOpacity": 0.8, "strokeWidth": 5, "strokeOpacity": 0.55},
          "encoding": {"x": {"field": "H0", "type": "quantitative", "axis": null}, "y": {"field": "Om", "type": "quantitative", "axis": null}, "order": {"field": "i", "type": "quantitative"}, "color": {"field": "dataset", "type": "nominal", "legend": null}}
        },
        {
          "data": {"name": "contours"},
          "transform": [{"filter": "datum.dataset === 'LVK & Pantheon+' && datum.level === 68"}],
          "mark": {"type": "line", "interpolate": "cardinal-closed", "clip": true, "fill": "#c46c9e", "fillOpacity": 0.85, "strokeWidth": 0},
          "encoding": {"x": {"field": "H0", "type": "quantitative", "axis": null}, "y": {"field": "Om", "type": "quantitative", "axis": null}, "order": {"field": "i", "type": "quantitative"}, "color": {"field": "dataset", "type": "nominal", "legend": null}}
        },
        {
          "data": {"name": "contours"},
          "transform": [{"filter": "datum.dataset === 'ETΔ' && datum.level === 95"}],
          "mark": {"type": "line", "interpolate": "cardinal-closed", "clip": true, "fill": "#8fd2c0", "fillOpacity": 0.9, "strokeWidth": 6, "strokeOpacity": 0.55},
          "encoding": {"x": {"field": "H0", "type": "quantitative", "axis": null}, "y": {"field": "Om", "type": "quantitative", "axis": null}, "order": {"field": "i", "type": "quantitative"}, "color": {"field": "dataset", "type": "nominal", "legend": null}}
        },
        {
          "data": {"name": "contours"},
          "transform": [{"filter": "datum.dataset === 'ETΔ' && datum.level === 68"}],
          "mark": {"type": "line", "interpolate": "cardinal-closed", "clip": true, "fill": "#029e73", "fillOpacity": 0.92, "strokeWidth": 0},
          "encoding": {"x": {"field": "H0", "type": "quantitative", "axis": null}, "y": {"field": "Om", "type": "quantitative", "axis": null}, "order": {"field": "i", "type": "quantitative"}, "color": {"field": "dataset", "type": "nominal", "legend": null}}
        },
        {
          "data": {"name": "contours"},
          "transform": [{"filter": "datum.dataset === 'ETΔ & Pantheon+' && datum.level === 95"}],
          "mark": {"type": "line", "interpolate": "cardinal-closed", "clip": true, "fill": "#f0c8a0", "fillOpacity": 0.85, "strokeWidth": 6, "strokeOpacity": 0.6},
          "encoding": {"x": {"field": "H0", "type": "quantitative", "axis": null}, "y": {"field": "Om", "type": "quantitative", "axis": null}, "order": {"field": "i", "type": "quantitative"}, "color": {"field": "dataset", "type": "nominal", "legend": null}}
        },
        {
          "data": {"name": "contours"},
          "transform": [{"filter": "datum.dataset === 'ETΔ & Pantheon+' && datum.level === 68"}],
          "mark": {"type": "line", "interpolate": "cardinal-closed", "clip": true, "fill": "#b9660f", "fillOpacity": 0.95, "strokeWidth": 0},
          "encoding": {"x": {"field": "H0", "type": "quantitative", "axis": null}, "y": {"field": "Om", "type": "quantitative", "axis": null}, "order": {"field": "i", "type": "quantitative"}, "color": {"field": "dataset", "type": "nominal", "legend": null}}
        },
        {
          "data": {"name": "truth"},
          "mark": {"type": "rule", "color": "#808080", "strokeWidth": 4.5, "strokeDash": [17, 9]},
          "encoding": {"x": {"field": "H0", "type": "quantitative", "axis": {"orient": "top", "values": [65, 70], "tickSize": -34, "labels": false, "title": null}}}
        },
        {
          "data": {"name": "truth"},
          "mark": {"type": "rule", "color": "#808080", "strokeWidth": 4.5, "strokeDash": [17, 9]},
          "encoding": {"y": {"field": "Om", "type": "quantitative", "axis": {"orient": "right", "values": [0.2, 0.4, 0.6, 0.8], "tickSize": -34, "labels": false, "title": null}}}
        }
      ]
    },
    {
      "width": 1000, "height": 1032,
      "layer": [
        {
          "data": {"name": "om_1d"},
          "mark": {"type": "line", "strokeWidth": 12, "interpolate": "monotone", "clip": true},
          "encoding": {
            "x": {"field": "Om", "type": "quantitative", "scale": {"domain": [0, 0.9718], "nice": false, "zero": false}, "axis": {"orient": "bottom", "values": [0.1, 0.5, 0.9], "format": ".1f", "tickSize": -31, "labelPadding": 147.5, "labelBaseline": "alphabetic", "title": "Ωₘ", "titleBaseline": "alphabetic", "titleY": 292, "titleX": 514}},
            "y": {"field": "density", "type": "quantitative", "scale": {"domain": [0, 1.09], "nice": false}, "axis": null},
            "color": {"field": "dataset", "type": "nominal", "legend": null}
          }
        },
        {
          "data": {"name": "truth"},
          "mark": {"type": "rule", "color": "#808080", "strokeWidth": 4.5, "strokeDash": [17, 9]},
          "encoding": {"x": {"field": "Om", "type": "quantitative"}}
        }
      ]
    }
  ]
}
